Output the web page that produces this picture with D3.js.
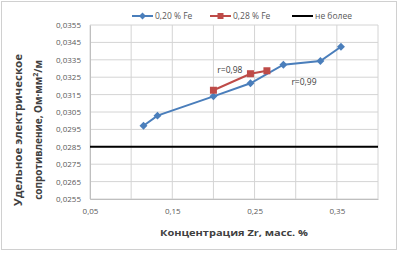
<!DOCTYPE html>
<html><head><meta charset="utf-8">
<script src="https://cdn.jsdelivr.net/npm/d3@7"></script>
<style>body{margin:0;background:#fff}svg{display:block}text{font-family:"Open Sans","Noto Sans",sans-serif}</style>
</head><body>
<svg id="c" width="398" height="254"></svg>
<script>
const seriesNames = ["0,20 % Fe", "0,28 % Fe", "не более"];
const seriesColors = ["#4a7ebb", "#be4b48", "#000000"];
const zr020 = [0.115, 0.132, 0.200, 0.245, 0.285, 0.330, 0.355];
const rho020 = [0.02971, 0.03029, 0.03140, 0.03215, 0.03322, 0.03343, 0.03425];
const zr028 = [0.200, 0.245, 0.265];
const rho028 = [0.03175, 0.03270, 0.03287];
const limitValue = 0.0285;
const xTicks = [0.05, 0.10, 0.15, 0.20, 0.25, 0.30, 0.35, 0.40];
const xLabelTicks = [0.05, 0.15, 0.25, 0.35];
const yTicks = [0.0255,0.0265,0.0275,0.0285,0.0295,0.0305,0.0315,0.0325,0.0335,0.0345,0.0355];
const annotations = [{text:"r=0,98", x:0.22, y:0.0329}, {text:"r=0,99", x:0.31, y:0.0322}];

const svg = d3.select("#c");
svg.append("rect").attr("x",1.5).attr("y",1.5).attr("width",395).attr("height",248)
  .attr("fill","#fff").attr("stroke","#d0d0d0");

const L=90, R=378, T=25, B=199;
const x = d3.scaleLinear().domain([0.05,0.40]).range([L,R]);
const y = d3.scaleLinear().domain([0.0255,0.0355]).range([B,T]);
const fmt = d => d3.format(".4f")(d).replace(".", ",");
const fmtX = d => d3.format(".2f")(d).replace(".", ",");

svg.append("g").selectAll("line").data(yTicks).join("line")
  .attr("x1",L).attr("x2",R).attr("y1",d=>y(d)).attr("y2",d=>y(d))
  .attr("stroke","#d4d4d4").attr("stroke-width",1);
svg.append("g").selectAll("line").data(xTicks).join("line")
  .attr("x1",d=>x(d)).attr("x2",d=>x(d)).attr("y1",T).attr("y2",B)
  .attr("stroke","#d4d4d4").attr("stroke-width",1);

const yAxis = svg.append("g").attr("transform",`translate(${L},0)`)
  .call(d3.axisLeft(y).tickValues(yTicks).tickFormat(fmt).tickSize(0).tickPadding(9));
yAxis.select(".domain").attr("stroke","#bfbfbf");
yAxis.selectAll("text").attr("font-size",8).attr("fill","#595959");
const xAxis = svg.append("g").attr("transform",`translate(0,${B})`)
  .call(d3.axisBottom(x).tickValues(xLabelTicks).tickFormat(fmtX).tickSize(0).tickPadding(9));
xAxis.select(".domain").attr("stroke","#bfbfbf");
xAxis.selectAll("text").attr("font-size",8).attr("fill","#595959");

svg.append("line").attr("x1",L).attr("x2",R).attr("y1",y(limitValue)).attr("y2",y(limitValue))
  .attr("stroke","#000").attr("stroke-width",2);

const line = d3.line().x(d=>x(d[0])).y(d=>y(d[1]));
const d1 = zr020.map((v,i)=>[v,rho020[i]]);
const d2 = zr028.map((v,i)=>[v,rho028[i]]);
svg.append("path").datum(d1).attr("d",line).attr("fill","none").attr("stroke",seriesColors[0]).attr("stroke-width",2);
svg.append("g").selectAll("rect").data(d1).join("rect")
  .attr("x",-2.8).attr("y",-2.8).attr("width",5.6).attr("height",5.6)
  .attr("transform",d=>`translate(${x(d[0])},${y(d[1])}) rotate(45)`)
  .attr("fill",seriesColors[0]);
svg.append("path").datum(d2).attr("d",line).attr("fill","none").attr("stroke",seriesColors[1]).attr("stroke-width",2);
svg.append("g").selectAll("rect").data(d2).join("rect")
  .attr("x",d=>x(d[0])-3.5).attr("y",d=>y(d[1])-3.5).attr("width",7).attr("height",7)
  .attr("fill",seriesColors[1]);

svg.append("g").selectAll("text").data(annotations).join("text")
  .attr("x",d=>x(d.x)).attr("y",d=>y(d.y)).attr("text-anchor","middle").attr("dy","0.35em")
  .attr("font-size",8.5).attr("fill","#404040").text(d=>d.text);

const lg = [{x:132},{x:210},{x:292}];
lg.forEach((p,i)=>{
  const g = svg.append("g").attr("transform",`translate(${p.x},16)`);
  g.append("line").attr("x1",0).attr("x2",21).attr("stroke",seriesColors[i]).attr("stroke-width",2);
  if(i===0) g.append("rect").attr("x",-2.5).attr("y",-2.5).attr("width",5).attr("height",5).attr("transform","translate(10.5,0) rotate(45)").attr("fill",seriesColors[0]);
  if(i===1) g.append("rect").attr("x",7.5).attr("y",-3).attr("width",6).attr("height",6).attr("fill",seriesColors[1]);
  g.append("text").attr("x",23).attr("dy","0.35em").attr("font-size",8.5).attr("fill","#595959").text(seriesNames[i]);
});

svg.append("text").attr("x",234).attr("y",233).attr("text-anchor","middle").attr("dy","0.35em")
  .attr("font-size",9.5).attr("font-weight","bold").attr("fill","#404040")
  .attr("textLength",148).attr("lengthAdjust","spacingAndGlyphs").text("Концентрация Zr, масс. %");
const yt = svg.append("g").attr("transform","translate(0,130) rotate(-90)");
yt.append("text").attr("x",0).attr("y",22).attr("text-anchor","middle")
  .attr("font-size",10).attr("font-weight","bold").attr("fill","#404040")
  .attr("textLength",152).attr("lengthAdjust","spacingAndGlyphs").text("Удельное электрическое");
const t2 = yt.append("text").attr("x",0).attr("y",42).attr("text-anchor","middle")
  .attr("font-size",10).attr("font-weight","bold").attr("fill","#404040");
t2.append("tspan").text("сопротивление, Ом·мм");
t2.append("tspan").attr("font-size",7).attr("dy",-4).text("2");
t2.append("tspan").attr("dy",4).text("/м");
</script>
</body></html>
